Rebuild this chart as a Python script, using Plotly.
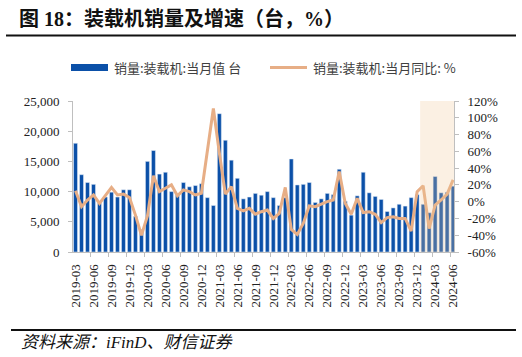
import plotly.graph_objects as go

# ---------------- data ----------------
months = [f"{y}-{m:02d}" for y in range(2019, 2025) for m in range(1, 13)]
months = months[months.index("2019-03"):months.index("2024-06") + 1]

sales = [18000, 12800, 11500, 11200, 8100, 9100, 9900, 9100, 10300, 10300,
         5900, 3700, 15000, 16800, 12900, 13200, 10000, 9400, 11500, 10800, 11000, 11300,
         9000, 7700, 22900, 18500, 15200, 12200, 8800, 9100, 9700, 9400, 10000, 9000,
         7700, 9000, 15400, 11100, 11200, 11500, 8200, 8800, 9700, 9500, 13700, 8400,
         6100, 9300, 13200, 9800, 9200, 8700, 6700, 7300, 7900, 7600, 9000, 9500,
         7900, 6500, 12500, 9800, 9900, 10900]

yoy = [13, -6, 2, 8, -2, 7, 17, 8, 9, 5,
       -16, -40, -17, 31, 12, 16, 20, 7, 14, 12, 8, 10,
       58, 111, 58, 9, 18, -8, -11, -8, -15, -12, -10, -20,
       -14, 17, -33, -39, -26, -5, -6, -3, 0, 2, 36, -2,
       -15, 4, -13, -12, -15, -25, -19, -18, -20, -20, -35, 12,
       19, -32, -4, 2, 9, 26]

left_ticks = [0, 5000, 10000, 15000, 20000, 25000]
left_labels = ["0", "5,000", "10,000", "15,000", "20,000", "25,000"]
right_ticks = [-60, -40, -20, 0, 20, 40, 60, 80, 100, 120]
right_labels = [f"{v}%" for v in right_ticks]

bar_name = "销量:装载机:当月值 台"
line_name = "销量:装载机:当月同比: %"
title_text = "图 18：装载机销量及增速（台，%）"
source_text = "资料来源：iFinD、财信证券"

# ---------------- layout geometry ----------------
W, H = 522, 357
ML, MR, MT, MB = 73, 68, 101, 105
PW, PH = W - ML - MR, H - MT - MB


def px(x):
    return (x - ML) / PW


def py(y):
    return (H - MB - y) / PH


BAR_COLOR = "#0B50A8"
LINE_COLOR = "#E7AE86"
SERIF = "Liberation Serif, Noto Sans CJK SC"
SANS = "Noto Sans CJK SC"

xidx = list(range(len(months)))
tick_idx = [i for i in xidx if months[i][5:] in ("03", "06", "09", "12")]

fig = go.Figure()
fig.add_trace(go.Bar(x=xidx, y=sales, marker_color=BAR_COLOR, width=0.66,
                     name=bar_name, showlegend=False, yaxis="y"))
fig.add_trace(go.Scatter(x=xidx, y=yoy, mode="lines", name=line_name,
                         line=dict(color=LINE_COLOR, width=3), showlegend=False,
                         yaxis="y2"))
# invisible trace to carry boundary tick marks
fig.add_trace(go.Scatter(x=[0], y=[0], mode="markers", marker=dict(opacity=0),
                         xaxis="x2", yaxis="y", showlegend=False, hoverinfo="skip"))

xr = [-0.42, 63.15]
fig.update_layout(
    width=W, height=H, autosize=False,
    margin=dict(l=ML, r=MR, t=MT, b=MB, pad=0),
    paper_bgcolor="white", plot_bgcolor="white",
    xaxis=dict(range=xr, tickvals=tick_idx, ticktext=[months[i] for i in tick_idx],
               tickangle=-90, ticks="", showline=True, linecolor="#BFBFBF",
               linewidth=1, showgrid=False, zeroline=False, automargin=False,
               ticklabelstandoff=6,
               tickfont=dict(family=SERIF, size=13, color="#222")),
    xaxis2=dict(range=xr, overlaying="x", tickvals=[i - 0.5 for i in tick_idx],
                showticklabels=False, ticks="outside", ticklen=4, tickcolor="#BFBFBF",
                showgrid=False, zeroline=False, showline=False, side="bottom"),
    yaxis=dict(range=[0, 25000], tickvals=left_ticks, ticktext=left_labels,
               ticks="outside", ticklen=4, tickcolor="#BFBFBF", showline=True,
               linecolor="#BFBFBF", showgrid=False, zeroline=False, automargin=False,
               ticklabelstandoff=6,
               tickfont=dict(family=SERIF, size=13, color="#222")),
    yaxis2=dict(range=[-60, 120], tickvals=right_ticks, ticktext=right_labels,
                overlaying="y", side="right", ticks="outside", ticklen=4,
                tickcolor="#BFBFBF", showline=True, linecolor="#BFBFBF",
                showgrid=False, zeroline=False, automargin=False,
                ticklabelstandoff=6,
                tickfont=dict(family=SERIF, size=13, color="#222")),
    showlegend=False,
)

shapes = []
# highlighted period
shapes.append(dict(type="rect", xref="x", yref="paper", x0=57.5, x1=xr[1], y0=0, y1=1,
                   fillcolor="rgba(240,200,150,0.27)", line=dict(width=0), layer="above"))
# header rule
shapes.append(dict(type="line", xref="paper", yref="paper", x0=px(6), x1=px(516),
                   y0=py(35.5), y1=py(35.5), line=dict(color="#111", width=2)))
# footer rule
shapes.append(dict(type="line", xref="paper", yref="paper", x0=px(11), x1=px(516),
                   y0=py(330), y1=py(330), line=dict(color="#111", width=2)))
# legend marks
shapes.append(dict(type="rect", xref="paper", yref="paper", x0=px(71), x1=px(108),
                   y0=py(71), y1=py(64), fillcolor=BAR_COLOR, line=dict(width=0)))
shapes.append(dict(type="line", xref="paper", yref="paper", x0=px(270), x1=px(307),
                   y0=py(67.5), y1=py(67.5), line=dict(color=LINE_COLOR, width=3)))
fig.update_layout(shapes=shapes)

ann = []
ann.append(dict(text=f"<b>{title_text}</b>", xref="paper", yref="paper", x=px(17), y=py(18),
                xanchor="left", yanchor="middle", showarrow=False,
                font=dict(family=SERIF, size=20, color="#111")))
ann.append(dict(text=bar_name, xref="paper", yref="paper", x=px(112), y=py(67.5),
                xanchor="left", yanchor="middle", showarrow=False,
                font=dict(family=SANS, size=13, color="#404040")))
ann.append(dict(text=line_name, xref="paper", yref="paper", x=px(311), y=py(67.5),
                xanchor="left", yanchor="middle", showarrow=False,
                font=dict(family=SANS, size=13, color="#404040")))
ann.append(dict(text=source_text, xref="paper", yref="paper", x=px(19), y=py(342),
                xanchor="left", yanchor="middle", showarrow=False,
                font=dict(family=SERIF, size=17, color="#111", style="italic")))
fig.update_layout(annotations=ann)

fig.write_html("out.html", config={"displayModeBar": False},
               post_script="document.body.style.margin='0';document.body.style.padding='0';")
